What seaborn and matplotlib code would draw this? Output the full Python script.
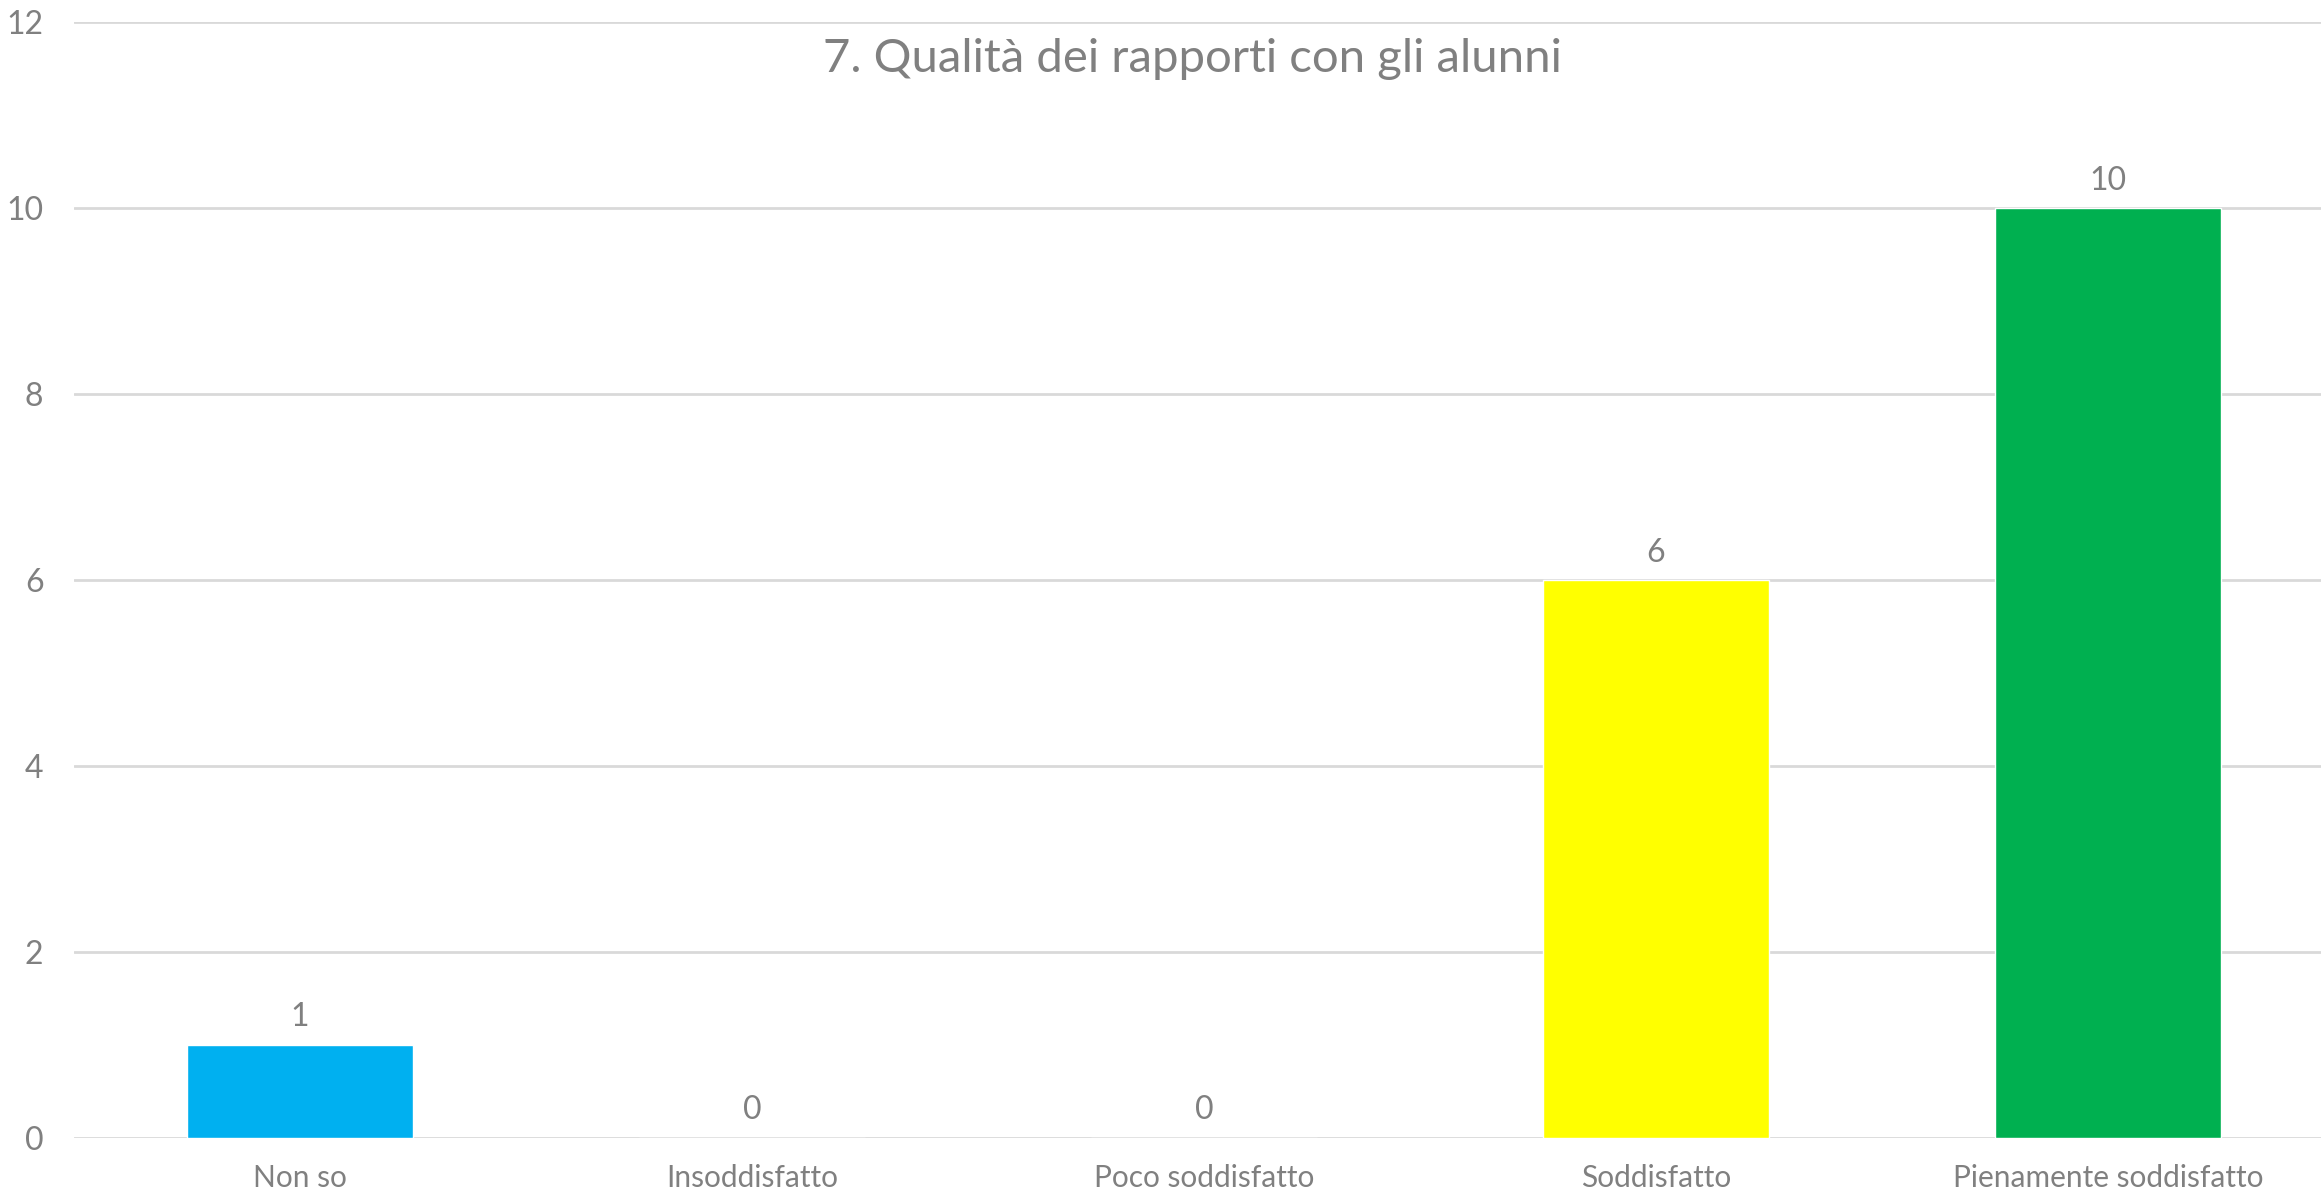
import matplotlib
matplotlib.use("Agg")
import matplotlib.pyplot as plt
import seaborn as sns
import pandas as pd

# Data
categories = ["Non so", "Insoddisfatto", "Poco soddisfatto", "Soddisfatto", "Pienamente soddisfatto"]
counts = [1, 0, 0, 6, 10]
colors = ["#00B0F0", "#FF0000", "#FFC000", "#FFFF00", "#00B050"]
y_ticks = [0, 2, 4, 6, 8, 10, 12]
title = "7. Qualità dei rapporti con gli alunni"

df = pd.DataFrame({"categoria": categories, "valore": counts})

sns.set_style("white")
plt.rcParams["font.family"] = ["Lato", "DejaVu Sans"]
grey = "#808080"

fig = plt.figure(figsize=(23.21, 11.98), dpi=100)
ax = fig.add_axes([0.0319, 0.0501, 0.9737, 0.9315])

sns.barplot(data=df, x="categoria", y="valore", hue="categoria",
            palette=colors, width=0.5, legend=False, saturation=1, ax=ax)

ax.set_ylim(0, 12)
ax.set_yticks(y_ticks)
ax.yaxis.grid(True, color="#d9d9d9", linewidth=2)
ax.set_axisbelow(True)
for s in ax.spines.values():
    s.set_visible(False)
ax.tick_params(axis="both", length=0, labelsize=23, labelcolor=grey)
ax.tick_params(axis="x", labelsize=21.5, pad=19)
ax.tick_params(axis="y", pad=22)
ax.set_xlabel("")
ax.set_ylabel("")

# Data labels above the bars
for i, v in enumerate(counts):
    ax.annotate(str(v), (i, v), xytext=(0, 9), textcoords="offset points",
                ha="center", va="bottom", fontsize=23, color=grey)

fig.text(0.5136, 1 - 59 / 1198, title, ha="center", va="center",
         fontsize=34, color=grey)

fig.savefig("out.png", dpi=100, facecolor="white")
